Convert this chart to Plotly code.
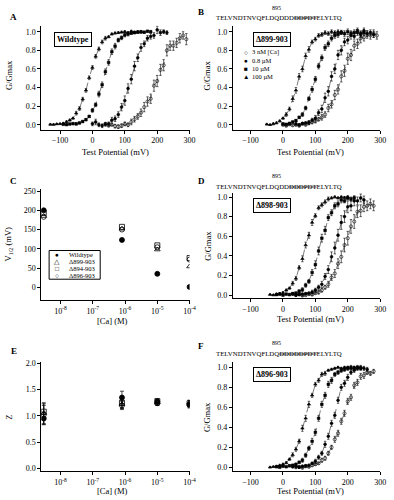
import plotly.graph_objects as go

W, H = 394, 500
FONT = "Liberation Serif"

# ---------------- data ----------------
# Panel A  (Wildtype)  G/Gmax vs test potential (mV)
A_v100 = [-130,-120,-110,-100,-90,-80,-70,-60,-50,-40,-30,-20,-10,0,10,20,30,40,50,60,70,80,90,100,110,120,130,140,150]
A_g100 = [0.004,0.002,0.008,0.010,0.015,0.032,0.050,0.070,0.125,0.175,0.275,0.370,0.505,0.615,0.735,0.815,0.890,0.930,0.945,0.975,0.985,0.990,0.995,1.000,0.990,1.005,0.995,1.000,0.995]
A_e100 = [0.005,0.005,0.005,0.005,0.01,0.01,0.01,0.01,0.02,0.02,0.02,0.02,0.02,0.02,0.02,0.02,0.02,0.02,0.01,0.01,0.01,0.01,0.01,0.01,0.01,0.01,0.01,0.01,0.01]
A_v10 = [-90,-80,-70,-60,-50,-40,-30,-20,-10,0,10,20,30,40,50,60,70,80,90,100,110,120,130,140,150,160,170,180]
A_g10 = [0.005,0.002,0.008,0.012,0.010,0.020,0.035,0.055,0.090,0.155,0.215,0.330,0.430,0.570,0.670,0.785,0.845,0.910,0.935,0.965,0.975,0.985,0.990,0.995,1.000,0.995,1.005,1.000]
A_e10 = [0.005,0.005,0.005,0.005,0.01,0.01,0.01,0.01,0.01,0.02,0.02,0.03,0.03,0.03,0.03,0.03,0.03,0.02,0.02,0.02,0.02,0.01,0.01,0.01,0.01,0.01,0.01,0.01]
A_v08 = [0,10,20,30,40,50,60,70,80,90,100,110,120,130,140,150,160,170,180,190,200,210,220,230]
A_g08 = [0.010,0.030,0.000,-0.010,0.005,0.010,0.050,0.065,0.110,0.190,0.260,0.390,0.490,0.630,0.720,0.830,0.870,0.930,0.950,0.960,1.020,0.990,1.000,0.990]
A_e08 = [0.02,0.03,0.02,0.02,0.02,0.02,0.03,0.03,0.03,0.04,0.05,0.05,0.05,0.05,0.04,0.04,0.03,0.03,0.03,0.03,0.04,0.03,0.02,0.02]
A_v3n = [40,50,60,70,80,90,100,110,120,130,140,150,160,170,180,190,200,210,220,230,240,250,260,270,280,290]
A_g3n = [0.010,-0.010,0.000,-0.015,-0.020,-0.010,0.010,0.000,0.030,0.060,0.090,0.130,0.190,0.250,0.280,0.420,0.470,0.590,0.640,0.800,0.850,0.850,0.880,0.930,0.960,0.920]
A_e3n = [0.01,0.01,0.01,0.02,0.02,0.02,0.02,0.02,0.03,0.03,0.03,0.04,0.05,0.05,0.05,0.06,0.06,0.06,0.06,0.06,0.05,0.05,0.05,0.05,0.04,0.06]

# Panel B  (Δ899-903)
B_v100 = [-50,-40,-30,-20,-10,0,10,20,30,40,50,60,70,80,90,100,110,120,130,140,150,160,170,180]
B_g100 = [0.005,0.000,0.010,0.020,0.040,0.070,0.110,0.170,0.280,0.370,0.520,0.600,0.740,0.810,0.890,0.920,0.960,0.970,0.990,0.980,1.000,0.990,1.000,0.995]
B_e100 = [0.005,0.005,0.01,0.01,0.01,0.01,0.02,0.02,0.03,0.03,0.03,0.03,0.03,0.03,0.02,0.02,0.02,0.02,0.02,0.02,0.02,0.02,0.02,0.02]
B_v10 = [0,10,20,30,40,50,60,70,80,90,100,110,120,130,140,150,160,170,180,190,200,210,220,230,240,250]
B_g10 = [0.010,0.005,0.015,0.030,0.045,0.080,0.110,0.180,0.280,0.380,0.490,0.630,0.720,0.830,0.870,0.930,0.960,0.970,0.990,0.980,1.000,0.980,0.990,1.010,0.980,0.990]
B_e10 = [0.005,0.005,0.01,0.01,0.01,0.01,0.02,0.02,0.02,0.03,0.03,0.03,0.03,0.03,0.03,0.03,0.03,0.03,0.02,0.03,0.03,0.03,0.03,0.03,0.03,0.03]
B_v08 = [40,50,60,70,80,90,100,110,120,130,140,150,160,170,180,190,200,210,220,230,240,250,260,270,280]
B_g08 = [0.010,0.000,0.015,0.020,0.025,0.050,0.070,0.130,0.170,0.290,0.360,0.520,0.600,0.750,0.800,0.890,0.910,0.960,0.950,0.990,0.970,1.010,0.980,0.990,0.970]
B_e08 = [0.01,0.01,0.01,0.01,0.02,0.02,0.03,0.03,0.04,0.05,0.05,0.05,0.05,0.05,0.05,0.04,0.04,0.04,0.03,0.03,0.03,0.03,0.03,0.03,0.03]
B_v3n = [0,10,20,30,40,50,60,70,80,90,100,110,120,130,140,150,160,170,180,190,200,210,220,230,240,250,260,270,280,290]
B_g3n = [0.000,-0.010,0.005,-0.005,0.000,-0.010,0.010,0.000,0.020,0.030,0.040,0.060,0.080,0.110,0.180,0.220,0.320,0.380,0.520,0.580,0.710,0.750,0.850,0.870,0.930,0.940,0.970,0.960,0.980,0.960]
B_e3n = [0.01,0.01,0.01,0.01,0.01,0.01,0.01,0.01,0.02,0.02,0.02,0.02,0.03,0.03,0.04,0.04,0.05,0.05,0.06,0.06,0.06,0.06,0.05,0.05,0.05,0.04,0.04,0.04,0.04,0.04]

# Panel D  (Δ898-903)
D_v100 = [-40,-30,-20,-10,0,10,20,30,40,50,60,70,80,90,100,110,120,130,140,150,160,170,180,190,200]
D_g100 = [0.005,0.000,0.010,0.015,0.025,0.050,0.070,0.120,0.170,0.280,0.370,0.510,0.610,0.740,0.810,0.890,0.920,0.950,0.980,0.990,1.000,0.990,1.000,0.995,1.000]
D_e100 = [0.005,0.005,0.005,0.01,0.01,0.01,0.01,0.02,0.02,0.02,0.03,0.03,0.03,0.03,0.02,0.02,0.02,0.02,0.02,0.01,0.01,0.01,0.01,0.01,0.01]
D_v10 = [-20,-10,0,10,20,30,40,50,60,70,80,90,100,110,120,130,140,150,160,170,180,190,200,210,220]
D_g10 = [0.005,0.010,0.000,0.010,0.005,0.015,0.020,0.040,0.055,0.100,0.140,0.230,0.310,0.450,0.580,0.660,0.790,0.840,0.910,0.930,0.970,0.960,0.990,0.980,0.990]
D_e10 = [0.005,0.005,0.005,0.005,0.01,0.01,0.01,0.01,0.02,0.02,0.02,0.03,0.04,0.04,0.04,0.04,0.03,0.03,0.03,0.03,0.03,0.02,0.02,0.02,0.02]
D_v08 = [30,40,50,60,70,80,90,100,110,120,130,140,150,160,170,180,190,200,210,220,230,240,250]
D_g08 = [0.010,0.000,0.005,0.010,0.015,0.020,0.030,0.050,0.080,0.110,0.190,0.260,0.390,0.480,0.610,0.740,0.800,0.900,0.910,0.960,0.960,0.990,0.970]
D_e08 = [0.01,0.01,0.01,0.01,0.01,0.01,0.02,0.02,0.02,0.03,0.03,0.04,0.05,0.06,0.06,0.07,0.06,0.06,0.05,0.05,0.04,0.04,0.04]
D_v3n = [40,50,60,70,80,90,100,110,120,130,140,150,160,170,180,190,200,210,220,230,240,250,260,270,280]
D_g3n = [0.000,0.010,-0.005,0.000,0.010,0.005,0.020,0.030,0.050,0.080,0.110,0.180,0.220,0.320,0.390,0.510,0.580,0.700,0.750,0.850,0.860,0.900,0.910,0.930,0.910]
D_e3n = [0.01,0.01,0.01,0.01,0.01,0.01,0.01,0.02,0.02,0.02,0.03,0.03,0.04,0.05,0.06,0.07,0.07,0.07,0.07,0.06,0.06,0.05,0.05,0.05,0.05]

# Panel F  (Δ896-903)
F_v100 = [-40,-30,-20,-10,0,10,20,30,40,50,60,70,80,90,100,110,120,130,140,150,160,170,180,190,200,210,220]
F_g100 = [0.000,0.005,0.010,0.020,0.030,0.045,0.080,0.125,0.180,0.260,0.390,0.490,0.630,0.720,0.830,0.870,0.930,0.940,0.970,0.980,0.990,1.000,0.990,1.000,1.000,0.990,1.000]
F_e100 = [0.005,0.005,0.005,0.005,0.01,0.01,0.01,0.02,0.02,0.02,0.03,0.03,0.03,0.02,0.02,0.02,0.02,0.02,0.01,0.01,0.01,0.01,0.01,0.01,0.01,0.01,0.01]
F_v10 = [-20,-10,0,10,20,30,40,50,60,70,80,90,100,110,120,130,140,150,160,170,180,190,200,210,220,230,240]
F_g10 = [0.005,0.000,0.010,0.005,0.015,0.020,0.030,0.050,0.070,0.120,0.190,0.260,0.350,0.490,0.630,0.720,0.830,0.870,0.930,0.950,0.970,0.980,0.990,1.000,0.990,1.000,0.990]
F_e10 = [0.005,0.005,0.005,0.005,0.01,0.01,0.01,0.01,0.02,0.02,0.02,0.03,0.03,0.03,0.03,0.03,0.03,0.03,0.02,0.02,0.02,0.02,0.02,0.02,0.02,0.02,0.02]
F_v08 = [30,40,50,60,70,80,90,100,110,120,130,140,150,160,170,180,190,200,210,220,230,240,250,260]
F_g08 = [0.005,0.010,0.000,0.010,0.015,0.020,0.040,0.060,0.100,0.140,0.230,0.310,0.440,0.520,0.670,0.800,0.840,0.900,0.950,0.970,0.990,1.000,0.990,0.980]
F_e08 = [0.01,0.01,0.01,0.01,0.01,0.01,0.01,0.02,0.02,0.02,0.03,0.03,0.03,0.03,0.03,0.03,0.03,0.03,0.02,0.02,0.02,0.02,0.02,0.02]
F_v3n = [40,50,60,70,80,90,100,110,120,130,140,150,160,170,180,190,200,210,220,230,240,250,260,270,280]
F_g3n = [0.000,0.005,-0.005,0.010,0.005,0.020,0.030,0.040,0.070,0.090,0.140,0.200,0.280,0.340,0.460,0.540,0.660,0.700,0.820,0.850,0.910,0.920,0.950,0.940,0.960]
F_e3n = [0.01,0.01,0.01,0.01,0.01,0.01,0.01,0.01,0.02,0.02,0.02,0.02,0.03,0.03,0.03,0.03,0.03,0.03,0.03,0.03,0.03,0.03,0.02,0.02,0.02]

# Panel C: V1/2 (mV) vs [Ca] (M);  Panel E: Z vs [Ca]
ca_conc = [3e-9, 8e-7, 1e-5, 1e-4]
vh_wt  = [200, 123, 35, 1]
vh_899 = [185, 152, 98, 54]
vh_894 = [193, 157, 109, 76]
vh_896 = [183, 150, 104, 72]
z_wt  = [0.95, 1.35, 1.27, 1.22]
z_wt_e  = [0.12, 0.12, 0.04, 0.04]
z_899 = [1.05, 1.22, 1.25, 1.25]
z_899_e = [0.20, 0.08, 0.05, 0.05]
z_894 = [1.08, 1.25, 1.28, 1.24]
z_894_e = [0.15, 0.10, 0.05, 0.05]
z_896 = [1.02, 1.20, 1.24, 1.20]
z_896_e = [0.18, 0.08, 0.04, 0.05]

legend_B = ["○", "●", "■", "▲"]
legend_B_txt = ["3 nM [Ca]", "0.8 µM", "10 µM", "100 µM"]
legend_C = ["●", "△", "□", "○"]
legend_C_txt = ["Wildtype", "Δ899-903", "Δ894-903", "Δ896-903"]
log_ticks = [1e-8, 1e-7, 1e-6, 1e-5, 1e-4]
log_ticktext = ["10<sup>-8</sup>", "10<sup>-7</sup>", "10<sup>-6</sup>", "10<sup>-5</sup>", "10<sup>-4</sup>"]

# ---------------- figure ----------------
fig = go.Figure()

def px(x):
    return x / W

def py(y):
    return 1 - y / H

LINE = dict(color="#444444", width=0.7, dash="dash")

def gv_series(v, g, e, symbol, size, xa, ya):
    fig.add_trace(go.Scatter(
        x=v, y=g, mode="lines+markers", xaxis=xa, yaxis=ya,
        line=LINE,
        marker=dict(symbol=symbol, size=size, color="black", line=dict(color="black", width=0.6)),
        error_y=dict(type="data", array=e, color="black", thickness=0.6, width=1.2),
        showlegend=False, hoverinfo="skip"))

panels = [
    ("x", "y", A_v100, A_g100, A_e100, A_v10, A_g10, A_e10, A_v08, A_g08, A_e08, A_v3n, A_g3n, A_e3n),
    ("x2", "y2", B_v100, B_g100, B_e100, B_v10, B_g10, B_e10, B_v08, B_g08, B_e08, B_v3n, B_g3n, B_e3n),
    ("x4", "y4", D_v100, D_g100, D_e100, D_v10, D_g10, D_e10, D_v08, D_g08, D_e08, D_v3n, D_g3n, D_e3n),
    ("x6", "y6", F_v100, F_g100, F_e100, F_v10, F_g10, F_e10, F_v08, F_g08, F_e08, F_v3n, F_g3n, F_e3n),
]
for p in panels:
    xa, ya = p[0], p[1]
    gv_series(p[11], p[12], p[13], "circle-open", 3.2, xa, ya)
    gv_series(p[8], p[9], p[10], "circle", 2.8, xa, ya)
    gv_series(p[5], p[6], p[7], "square", 2.6, xa, ya)
    gv_series(p[2], p[3], p[4], "triangle-up", 3, xa, ya)

def ca_series(y, err, symbol, xa, ya, size=5):
    fig.add_trace(go.Scatter(
        x=ca_conc, y=y, mode="markers", xaxis=xa, yaxis=ya,
        marker=dict(symbol=symbol, size=size, color="black", line=dict(color="black", width=0.8)),
        error_y=(dict(type="data", array=err, color="black", thickness=0.7, width=2) if err else None),
        showlegend=False, hoverinfo="skip"))

ca_series(vh_wt, None, "circle", "x3", "y3")
ca_series(vh_899, None, "triangle-up-open", "x3", "y3")
ca_series(vh_894, None, "square-open", "x3", "y3")
ca_series(vh_896, None, "circle-open", "x3", "y3")
ca_series(z_899, z_899_e, "triangle-up-open", "x5", "y5")
ca_series(z_894, z_894_e, "square-open", "x5", "y5")
ca_series(z_896, z_896_e, "circle-open", "x5", "y5")
ca_series(z_wt, z_wt_e, "circle", "x5", "y5")

TICKFONT = dict(family=FONT, size=8, color="black")

def axis(domain, rng, anchor, **kw):
    d = dict(domain=domain, range=rng, anchor=anchor, showline=True, linecolor="black", linewidth=1,
             ticks="outside", ticklen=3, tickwidth=1, tickcolor="black", showgrid=False, zeroline=False,
             tickfont=TICKFONT, fixedrange=True)
    d.update(kw)
    return d

gticks = dict(tickvals=[0, 0.2, 0.4, 0.6, 0.8, 1.0], tickformat=".1f")
vticks = dict(tickvals=[-100, 0, 100, 200, 300])
logx = dict(type="log", tickvals=log_ticks, ticktext=log_ticktext)

left_x = [px(42), px(193)]
right_x = [px(237), px(387)]
fig.update_layout(
    width=W, height=H, margin=dict(l=0, r=0, t=0, b=0),
    paper_bgcolor="white", plot_bgcolor="white", showlegend=False,
    font=dict(family=FONT, color="black", size=8),
    # A
    xaxis=axis(left_x, [-158, 300], "y", **vticks),
    yaxis=axis([py(128), py(23)], [-0.053, 1.064], "x", **gticks),
    # B
    xaxis2=axis(right_x, [-155, 300], "y2", **vticks),
    yaxis2=axis([py(128), py(23)], [-0.053, 1.064], "x2", **gticks),
    # C
    xaxis3=axis(left_x, [-8.6, -4.0], "y3", **logx),
    yaxis3=axis([py(300), py(188)], [-33, 255], "x3", tickvals=[0, 50, 100, 150, 200, 250]),
    # D
    xaxis4=axis(right_x, [-155, 300], "y4", **vticks),
    yaxis4=axis([py(298), py(192)], [-0.03, 1.04], "x4", **gticks),
    # E
    xaxis5=axis(left_x, [-8.6, -4.0], "y5", **logx),
    yaxis5=axis([py(473), py(363)], [-0.057, 2.02], "x5", tickvals=[0, 0.5, 1.0, 1.5, 2.0], tickformat=".1f"),
    # F
    xaxis6=axis(right_x, [-155, 300], "y6", **vticks),
    yaxis6=axis([py(473), py(363)], [-0.04, 1.05], "x6", **gticks),
)

ann = []
def text(x, y, s, size=8, bold=False, xanchor="center", **kw):
    if bold:
        s = "<b>" + s + "</b>"
    ann.append(dict(x=px(x), y=py(y), xref="paper", yref="paper", text=s, showarrow=False,
                    xanchor=xanchor, yanchor="middle", font=dict(family=FONT, size=size, color="black"), **kw))

# axis titles
text(118, 151, "Test Potential (mV)", size=8.5)
text(316, 151, "Test Potential (mV)", size=8.5)
text(316, 319, "Test Potential (mV)", size=8.5)
text(316, 493, "Test Potential (mV)", size=8.5)
text(115, 321, "[Ca] (M)", size=8.5)
text(115, 493, "[Ca] (M)", size=8.5)
text(9, 73, "G/Gmax", size=8.5, textangle=-90)
text(211, 73, "G/Gmax", size=8.5, textangle=-90)
text(211, 245, "G/Gmax", size=8.5, textangle=-90)
text(211, 418, "G/Gmax", size=8.5, textangle=-90)
text(9, 244, "V<sub>1/2</sub> (mV)", size=8.5, textangle=-90)
text(9, 418, "Z", size=8.5, textangle=-90)

# panel letters
for lab, x, y in [("A", 14, 14), ("B", 205, 9), ("C", 14, 180), ("D", 205, 180), ("E", 14, 352), ("F", 205, 346)]:
    text(x, y, lab, size=9, bold=True)

# boxed titles
box = dict(bordercolor="black", borderwidth=1, borderpad=2, bgcolor="white")
text(74, 37, "Wildtype", size=8, bold=True, **box)
text(277, 37, "Δ899-903", size=8, bold=True, **box)
text(277, 205, "Δ898-903", size=8, bold=True, **box)
text(277, 375, "Δ896-903", size=8, bold=True, **box)

# sequences
seq_B = "TELVNDTNVQFLDQDDD<s>DDPDT</s>ELYLTQ"
seq_D = "TELVNDTNVQFLDQDD<s>DDDPDT</s>ELYLTQ"
seq_F = "TELVNDTNVQFLDQ<s>DDDDDPDT</s>ELYLTQ"
text(281, 5, "895", size=6)
text(284, 15, seq_B, size=6.8)
text(281, 175, "895", size=6)
text(284, 185, seq_D, size=6.8)
text(281, 343, "895", size=6)
text(284, 354, seq_F, size=6.8)

# legend in B
for i, (s, t) in enumerate(zip(legend_B, legend_B_txt)):
    yy = [50, 58.5, 66.5, 74.5][i]
    text(250, yy, s, size=6.5)
    text(255, yy, t, size=6.5, xanchor="left")

# legend in C
for i, (s, t) in enumerate(zip(legend_C, legend_C_txt)):
    yy = [254.5, 261.5, 268.5, 275.5][i]
    text(58, yy, s, size=6.5)
    text(68, yy, t, size=6.5, xanchor="left")

fig.update_layout(annotations=ann, shapes=[
    dict(type="rect", xref="paper", yref="paper", x0=px(50), x1=px(102), y0=py(279), y1=py(250),
         line=dict(color="black", width=1), fillcolor="rgba(0,0,0,0)")
])

fig.write_html("out.html", config={"displayModeBar": False, "staticPlot": True},
               post_script="document.body.style.margin='0';document.body.style.overflow='hidden';")
